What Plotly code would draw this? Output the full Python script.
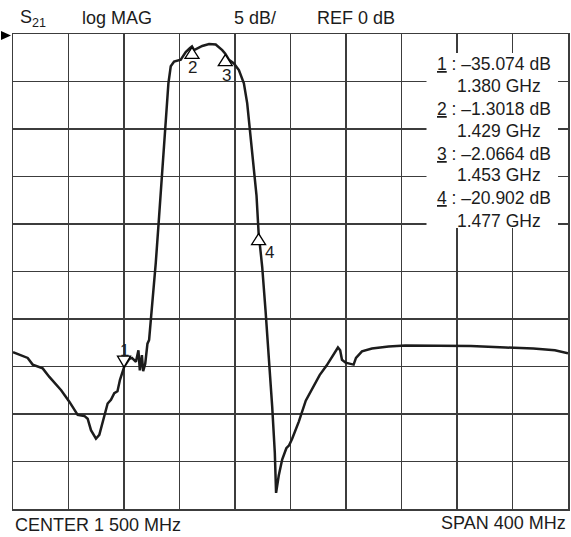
import numpy as np
import plotly.graph_objects as go

# ---------------- data ----------------
freq_mhz = [1300, 1310.6, 1314.2, 1321.4, 1326.2, 1332.2, 1334.7, 1340.6, 1345.4, 1346.6,
            1351.4, 1353.8, 1356.2, 1359.8, 1362.2, 1365.8, 1368.2, 1370.6, 1373, 1375.3,
            1377.1, 1380.2, 1383.8, 1385.7, 1388.6, 1390.4, 1391.4, 1392.9, 1393.8, 1395.3,
            1396.9, 1398.1, 1400.5, 1402.9, 1405.3, 1407.7, 1410.1, 1412, 1413.7, 1416.1,
            1420.9, 1424.5, 1427.4, 1429, 1430.5, 1432.9, 1436.4, 1441.3, 1446.1, 1450.8,
            1453, 1455.6, 1459.2, 1462.8, 1466.4, 1468.8, 1471.2, 1473.6, 1475.5, 1477,
            1479.6, 1482, 1484.4, 1486.8, 1488.7, 1489.6, 1491.5, 1494, 1497, 1499,
            1501.2, 1506, 1511, 1516, 1521, 1526, 1530, 1534.2, 1535.8, 1537.1,
            1539.7, 1545.5, 1547.2, 1551.5, 1558.7, 1570.7, 1582.7, 1606.6, 1630, 1655,
            1675, 1690.5, 1700]
s21_db = [-33.5, -34.1, -34.8, -35.2, -36.1, -37.1, -37.5, -38.7, -39.8, -40.1,
          -40.2, -40.5, -41.7, -42.6, -42.2, -40.3, -38.9, -38.5, -37.8, -37.6,
          -36.4, -35.0, -34.2, -34.1, -34.5, -33.3, -35.4, -33.8, -35.5, -34.7,
          -32.6, -32.2, -28.4, -24.1, -19.2, -14.3, -9.4, -5.2, -3.4, -2.9,
          -2.7, -1.9, -1.5, -1.3, -1.7, -1.5, -1.26, -1.05, -1.1, -1.7,
          -2.07, -2.7, -3.1, -3.8, -5.2, -7.3, -10.8, -15.0, -17.0, -20.9,
          -24.5, -29.1, -34.0, -39.2, -44.1, -48.3, -46.5, -44.8, -43.6, -43.3,
          -42.6, -40.8, -38.6, -37.2, -35.9, -34.9, -34.0, -33.0, -33.3, -34.3,
          -34.6, -34.8, -34.1, -33.4, -33.1, -32.9, -32.8, -32.8, -32.85, -33.0,
          -33.1, -33.3, -33.6]

marker_ids = ["1", "2", "3", "4"]
marker_freq_ghz = [1.380, 1.429, 1.453, 1.477]
marker_db = [-35.074, -1.3018, -2.0664, -20.902]
marker_db_text = ["\u201335.074 dB", "\u20131.3018 dB", "\u20132.0664 dB", "\u201320.902 dB"]
marker_freq_text = ["1.380 GHz", "1.429 GHz", "1.453 GHz", "1.477 GHz"]

center_mhz = 1500
span_mhz = 400
ref_db = 0
scale_db = 5
n_div = 10

header_texts = ["S<sub>21</sub>", "log MAG", "5 dB/", "REF 0 dB"]
footer_left = "CENTER 1 500 MHz"
footer_right = "SPAN 400 MHz"

# ---------------- layout geometry ----------------
W, H = 571, 537
L, R, T, B = 13, 1, 34, 28
PW, PH = W - L - R, H - T - B


def pxx(xpix):
    return (xpix - L) / PW


def pxy(ypix):
    return 1 - (ypix - T) / PH


FONT = "Liberation Sans, Arial, Helvetica, sans-serif"
INK = "#1c1c1c"
GRID = "#3c3c3c"

x0 = center_mhz - span_mhz / 2
x1 = center_mhz + span_mhz / 2
y1 = ref_db
y0 = ref_db - scale_db * n_div

fig = go.Figure()
fig.add_trace(go.Scatter(x=freq_mhz, y=s21_db, mode="lines",
                         line=dict(color=INK, width=2.5), hoverinfo="skip",
                         showlegend=False))

shapes = []
annotations = []

# white readout box covering grid
shapes.append(dict(type="rect", xref="paper", yref="paper",
                   x0=pxx(428), x1=pxx(560), y0=pxy(228), y1=pxy(53),
                   fillcolor="white", line=dict(width=0), layer="above"))

# reference arrow (at REF level, left of the graticule)
shapes.append(dict(type="path", xref="paper", yref="paper", xsizemode="pixel", ysizemode="pixel",
                   xanchor=0, yanchor=(ref_db - y0) / (y1 - y0),
                   path="M -12,3 L -2,-1.5 L -12,-6 Z",
                   fillcolor="black", line=dict(width=0)))

# marker triangles and labels
label_off = {"1": (0, 17), "2": (1, -21), "3": (1, -22), "4": (11, -20)}
for mid, fg, md in zip(marker_ids, marker_freq_ghz, marker_db):
    fm = fg * 1000
    if mid == "1":
        path = "M 0,0 L -6.5,11 L 6.5,11 Z"
    else:
        path = "M 0,-1 L -7,-12 L 7,-12 Z"
    shapes.append(dict(type="path", xref="x", yref="y", xsizemode="pixel", ysizemode="pixel",
                       xanchor=fm, yanchor=md, path=path,
                       fillcolor="white", line=dict(color="black", width=1.3), layer="above"))
    dx, dy = label_off[mid]
    annotations.append(dict(x=fm, y=md, xref="x", yref="y", text=mid, showarrow=False,
                            xshift=dx, yshift=dy, font=dict(family=FONT, size=17, color=INK)))

# readout text
for i, (mid, dbt, ft) in enumerate(zip(marker_ids, marker_db_text, marker_freq_text)):
    yl = 63.5 + i * 45
    annotations.append(dict(x=pxx(555), y=pxy(yl), xref="paper", yref="paper",
                            xanchor="right", yanchor="middle", showarrow=False,
                            text=f"<u>{mid}</u> : {dbt}",
                            font=dict(family=FONT, size=17.5, color=INK)))
    annotations.append(dict(x=pxx(545), y=pxy(yl + 22), xref="paper", yref="paper",
                            xanchor="right", yanchor="middle", showarrow=False,
                            text=ft, font=dict(family=FONT, size=17.5, color=INK)))

# header
header_x = [18, 80, 233, 316]
for t, hx in zip(header_texts, header_x):
    annotations.append(dict(x=pxx(hx), y=pxy(18), xref="paper", yref="paper",
                            xanchor="left", yanchor="middle", showarrow=False, text=t,
                            font=dict(family=FONT, size=18, color=INK)))

# footer
annotations.append(dict(x=pxx(13), y=pxy(525), xref="paper", yref="paper",
                        xanchor="left", yanchor="middle", showarrow=False, text=footer_left,
                        font=dict(family=FONT, size=18, color=INK)))
annotations.append(dict(x=pxx(570), y=pxy(523), xref="paper", yref="paper",
                        xanchor="right", yanchor="middle", showarrow=False, text=footer_right,
                        font=dict(family=FONT, size=18, color=INK)))

fig.update_layout(
    width=W, height=H,
    margin=dict(l=L, r=R, t=T, b=B, pad=0),
    paper_bgcolor="white", plot_bgcolor="white",
    shapes=shapes, annotations=annotations,
    xaxis=dict(range=[x0, x1], tick0=x0, dtick=span_mhz / n_div, showticklabels=False,
               ticks="", showgrid=True, gridcolor=GRID, gridwidth=1.3, zeroline=False,
               showline=True, linecolor=GRID, linewidth=1.5, mirror=True, fixedrange=True),
    yaxis=dict(range=[y0, y1], tick0=y0, dtick=scale_db, showticklabels=False,
               ticks="", showgrid=True, gridcolor=GRID, gridwidth=1.3, zeroline=False,
               showline=True, linecolor=GRID, linewidth=1.5, mirror=True, fixedrange=True),
    showlegend=False,
)

fig.write_html("out.html", config={"displayModeBar": False, "staticPlot": True},
               post_script="document.body.style.margin='0';document.body.style.overflow='hidden';")
